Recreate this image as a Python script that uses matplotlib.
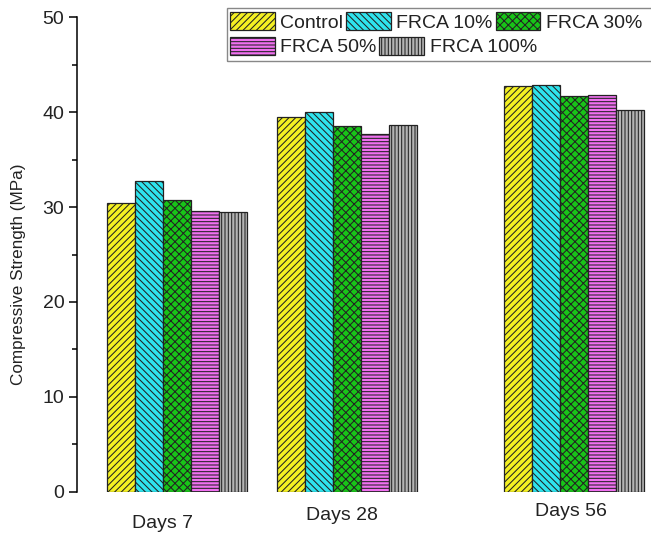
import numpy as np
import matplotlib
matplotlib.use("Agg")
from matplotlib import pyplot as plt
from matplotlib.ticker import MultipleLocator
from matplotlib.patches import Rectangle

plt.rcParams['font.family'] = ['Liberation Sans', 'DejaVu Sans']
plt.rcParams['hatch.linewidth'] = 0.75

# Data
groups = ["Days 7", "Days 28", "Days 56"]
series = ["Control", "FRCA 10%", "FRCA 30%", "FRCA 50%", "FRCA 100%"]
control = [30.4, 39.5, 42.7]
frca10 = [32.7, 40.0, 42.8]
frca30 = [30.7, 38.5, 41.7]
frca50 = [29.6, 37.7, 41.8]
frca100 = [29.5, 38.6, 40.2]
values = [control, frca10, frca30, frca50, frca100]

# Styles
colors = ['#f4f022', '#2ee4ee', '#18c418', '#f070f0', '#b4b4b4']
hatches = ['/////', '\\\\\\\\\\', 'xxxx', '-----', '|||||']
group_x = np.array([1.0, 2.0, 3.335])   # uneven spacing as in the original
bar_w = 0.165

fig = plt.figure(figsize=(6.51, 5.33), dpi=100)
ax = fig.add_axes([0.118, 0.077, 0.882, 0.891])

bars = []
for i, (name, vals) in enumerate(zip(series, values)):
    offs = (i - 2) * bar_w
    b = ax.bar(group_x + offs, vals, width=bar_w, color=colors[i],
               edgecolor='#222222', linewidth=0.9, hatch=hatches[i], label=name)
    bars.append(b)

ax.set_ylim(0, 50)
ax.set_xlim(0.412, 3.788)
ax.yaxis.set_major_locator(MultipleLocator(10))
ax.yaxis.set_minor_locator(MultipleLocator(5))
ax.tick_params(axis='y', which='major', length=6, width=1.1, labelsize=14,
               direction='out', pad=3, labelcolor='#222222')
ax.tick_params(axis='y', which='minor', length=3.5, width=1.1, direction='out')
ax.set_xticks([])
for s in ['top', 'right', 'bottom']:
    ax.spines[s].set_visible(False)
ax.spines['left'].set_linewidth(1.1)
ax.set_ylabel("Compressive Strength (MPa)", fontsize=12.3, color='#222222')
ax.yaxis.set_label_coords(-0.088, 0.459)

# group labels (sit at slightly different spots in the original)
label_dx = [-0.082, -0.03, -0.018]
label_dy = [-0.066, -0.05, -0.042]
for g, x, dx, dy in zip(groups, group_x, label_dx, label_dy):
    ax.text(x + dx, dy, g, transform=ax.get_xaxis_transform(),
            ha='center', va='center', fontsize=14, color='#222222')

# legend: two free rows inside one frame, like the Origin original
leg_kw = dict(loc='center left', fontsize=14, frameon=False, borderpad=0,
              borderaxespad=0, handlelength=2.3, handleheight=1.03,
              handletextpad=0.28, columnspacing=0.15, labelcolor='#222222')
fig.legend([bars[0], bars[1], bars[2]], series[:3], ncol=3,
           bbox_to_anchor=(230 / 651, 1 - 22 / 533), **leg_kw)
fig.legend([bars[3], bars[4]], series[3:], ncol=2,
           bbox_to_anchor=(230 / 651, 1 - 46.5 / 533), **leg_kw)
fig.add_artist(Rectangle((227 / 651, 1 - 61 / 533), 430 / 651, 53 / 533,
                         transform=fig.transFigure, fill=False,
                         edgecolor='#888888', linewidth=1.0))

fig.savefig("out.png", dpi=100)
